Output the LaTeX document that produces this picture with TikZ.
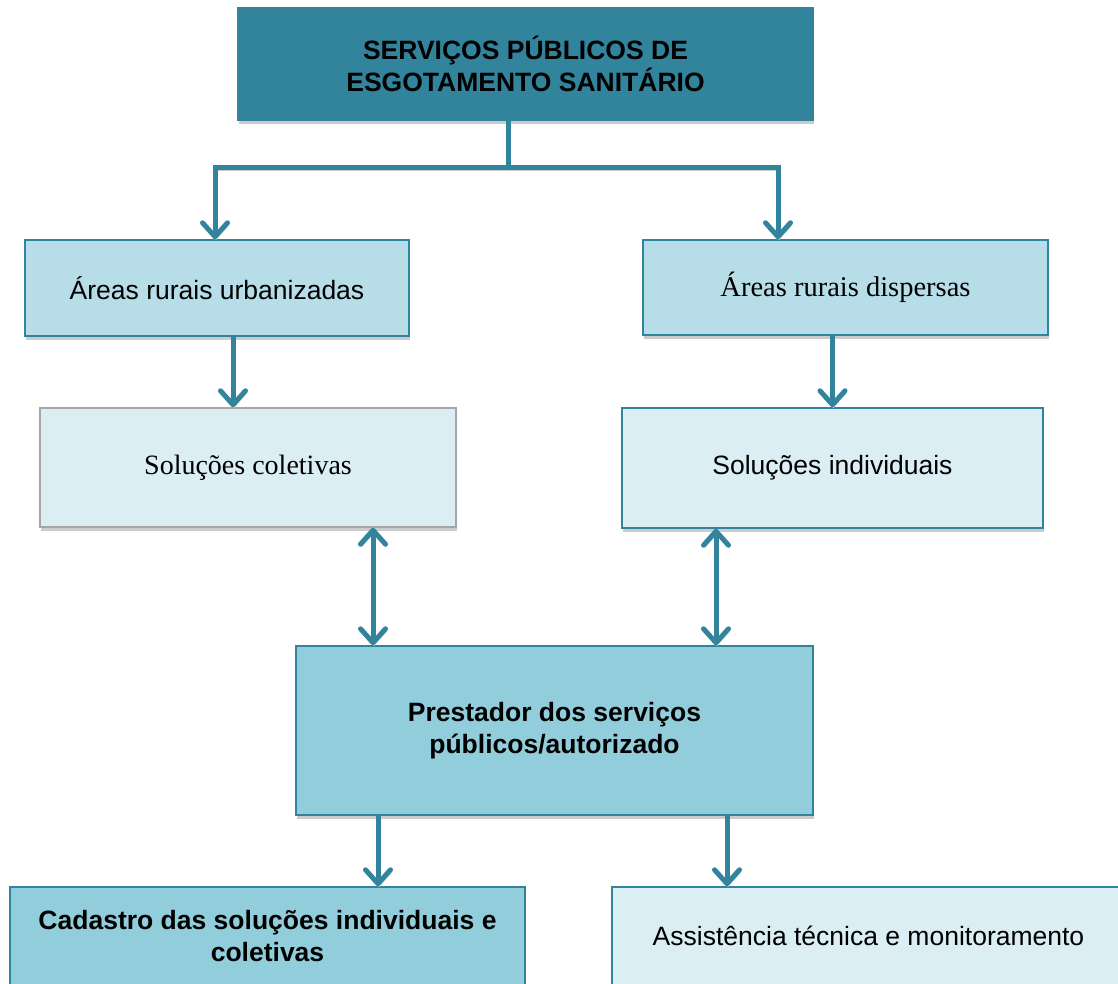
\documentclass[tikz,border=0pt]{standalone}
\usepackage{fontspec}
\setmainfont{Liberation Sans}
\newfontfamily\cambriafont{Liberation Serif}
\usetikzlibrary{arrows.meta,shadows}
\definecolor{tealdark}{HTML}{31849B}
\definecolor{bluemid}{HTML}{92CDDC}
\definecolor{bluelight}{HTML}{B7DDE8}
\definecolor{bluepale}{HTML}{DAEEF3}
\begin{document}
\begin{tikzpicture}[x=1pt,y=-1pt,
  box/.style={draw=tealdark,line width=1.5pt,align=center,inner sep=0pt,
    font=\fontsize{26.5}{32}\selectfont,
    drop shadow={shadow xshift=1pt,shadow yshift=-4pt,fill=black!20,opacity=1}},
  conn/.style={tealdark,line width=5pt,
    preaction={draw=black!20,transform canvas={xshift=1pt,yshift=-3pt}}},
  tip/.style={-{Straight Barb[length=14pt,width=25pt,round]}},
  both/.style={{Straight Barb[length=14pt,width=25pt,round]}-{Straight Barb[length=14pt,width=25pt,round]}}]
\useasboundingbox (0,0) rectangle (1118,983);
\node[box,fill=tealdark,minimum width=575pt,minimum height=112pt,font=\fontsize{26.5}{32}\selectfont\bfseries] (top) at (525.5,64) {SERVIÇOS PÚBLICOS DE\\ESGOTAMENTO SANITÁRIO};
\node[box,fill=bluelight,minimum width=384pt,minimum height=96pt] (urb) at (217,288) {Áreas rurais urbanizadas};
\node[box,fill=bluelight,minimum width=405pt,minimum height=95pt,font=\fontsize{28.5}{32}\cambriafont] (disp) at (845.5,287.5) {Áreas rurais dispersas};
\node[box,fill=bluepale,draw=black!35,minimum width=416pt,minimum height=119pt,font=\fontsize{28}{32}\cambriafont] (colet) at (248,467.5) {Soluções coletivas};
\node[box,fill=bluepale,minimum width=421pt,minimum height=120pt] (indiv) at (832.5,468) {Soluções individuais};
\node[box,fill=bluemid,minimum width=517pt,minimum height=169pt,font=\fontsize{26.5}{32}\selectfont\bfseries] (prest) at (554.5,730.5) {Prestador dos serviços\\públicos/autorizado};
\node[box,fill=bluemid,minimum width=515pt,minimum height=98pt,font=\fontsize{26.5}{32}\selectfont\bfseries] (cad) at (267.5,936) {Cadastro das soluções individuais e\\coletivas};
\node[box,fill=bluepale,minimum width=513pt,minimum height=98pt] (assist) at (868.5,936) {Assistência técnica e monitoramento};
\coordinate (split) at (508,167);
\draw[conn] (top.south -| split) -- (split);
\draw[conn,tip] (split) -| ([xshift=-2pt]urb.north);
\draw[conn,tip] (split) -| ([xshift=-67.5pt]disp.north);
\draw[conn,tip] ([xshift=16pt]urb.south) -- ([xshift=16pt]urb.south |- colet.north);
\draw[conn,tip] (disp.south -| indiv.north) -- (indiv.north);
\draw[conn,both] ([xshift=125pt]colet.south) -- ([xshift=125pt]colet.south |- prest.north);
\draw[conn,both] ([xshift=-116.5pt]indiv.south) -- ([xshift=-116.5pt]indiv.south |- prest.north);
\draw[conn,tip] ([xshift=-176.5pt]prest.south) -- ([xshift=-176.5pt]prest.south |- cad.north);
\draw[conn,tip] ([xshift=172.5pt]prest.south) -- ([xshift=172.5pt]prest.south |- assist.north);
\end{tikzpicture}
\end{document}
